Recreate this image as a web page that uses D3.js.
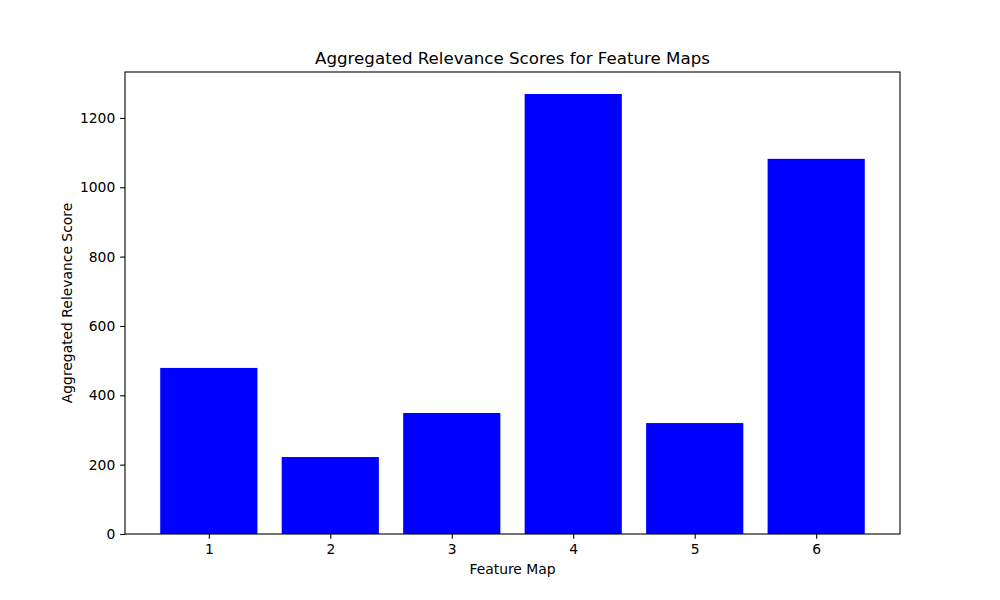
<!DOCTYPE html>
<html><head><meta charset="utf-8">
<script src="https://cdn.jsdelivr.net/npm/d3@7"></script>
<style>body{margin:0;background:#fff}svg{display:block}text{font-family:"DejaVu Sans",sans-serif;fill:#000}</style>
</head><body>
<svg id="c" width="1000" height="600"></svg>
<script>
const categories = [1, 2, 3, 4, 5, 6];
const values = [479, 222, 349, 1269, 320, 1082];
const yTicks = [0, 200, 400, 600, 800, 1000, 1200];

const svg = d3.select("#c");
const L = 125, R = 900, T = 72, B = 534;
const maxV = d3.max(values);
const x = d3.scaleLinear().domain([0.6 - 0.29, 6.4 + 0.29]).range([L, R]);
const y = d3.scaleLinear().domain([0, maxV * 1.05]).range([B, T]);

svg.selectAll("rect.bar").data(categories).enter().append("rect")
  .attr("class", "bar")
  .attr("x", d => x(d - 0.4))
  .attr("width", d => x(d + 0.4) - x(d - 0.4))
  .attr("y", (d, i) => y(values[i]))
  .attr("height", (d, i) => B - y(values[i]))
  .attr("fill", "#0000ff");

const xa = svg.append("g").attr("transform", `translate(0,${B})`)
  .call(d3.axisBottom(x).tickValues(categories).tickFormat(d3.format("d")).tickSize(4.86).tickPadding(4.86));
const ya = svg.append("g").attr("transform", `translate(${L},0)`)
  .call(d3.axisLeft(y).tickValues(yTicks).tickFormat(d3.format("d")).tickSize(4.86).tickPadding(4.86));
[xa, ya].forEach(a => {
  a.select(".domain").remove();
  a.selectAll("text").attr("font-size", 13.89).style("font-family", "DejaVu Sans");
  a.selectAll("line").attr("stroke", "#000").attr("stroke-width", 1.1);
});

svg.append("rect").attr("x", L).attr("y", T).attr("width", R - L).attr("height", B - T)
  .attr("fill", "none").attr("stroke", "#000").attr("stroke-width", 1.1);

svg.append("text").attr("x", (L + R) / 2).attr("y", T - 8.5).attr("text-anchor", "middle")
  .attr("font-size", 16.67).text("Aggregated Relevance Scores for Feature Maps");
svg.append("text").attr("x", (L + R) / 2).attr("y", 574).attr("text-anchor", "middle")
  .attr("font-size", 13.89).text("Feature Map");
svg.append("text").attr("transform", `translate(71.5,${(T + B) / 2}) rotate(-90)`).attr("text-anchor", "middle")
  .attr("font-size", 13.89).text("Aggregated Relevance Score");
</script>
</body></html>
